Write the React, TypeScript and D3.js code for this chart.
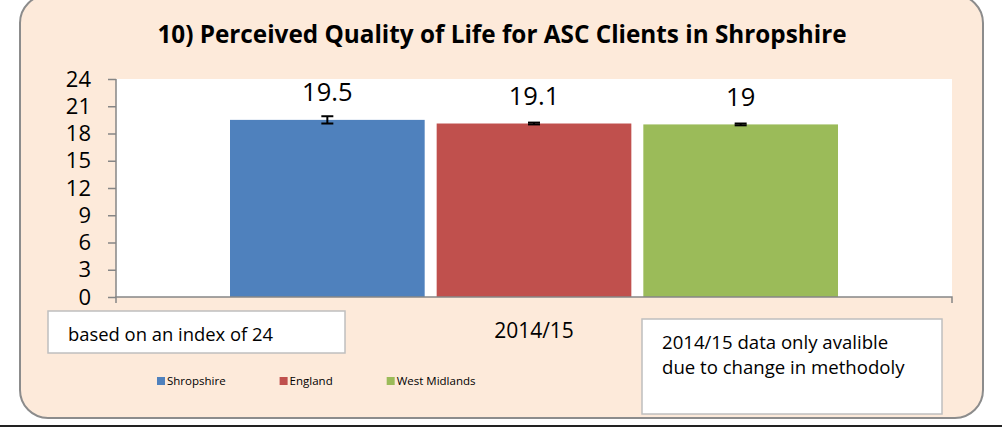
import React, { useEffect, useRef } from "react";
import * as d3 from "d3";

const categories = ["2014/15"];
const seriesNames = ["Shropshire", "England", "West Midlands"];
const seriesValues = [19.5, 19.1, 19];
const seriesErrors = [0.4, 0.1, 0.1];
const yTicks = [0, 3, 6, 9, 12, 15, 18, 21, 24];
const colors = ["#4F81BD", "#C0504D", "#9BBB59"];
const title = "10) Perceived Quality of Life for ASC Clients in Shropshire";
const noteLeft = "based on an index of 24";
const noteRight = ["2014/15 data only avalible", "due to change in methodoly"];

const App = () => {
  const svgRef = useRef<SVGSVGElement>(null);

  useEffect(() => {
    document.body.style.margin = "0";
    const width = 1002;
    const height = 428;
    const plotLeft = 116;
    const plotRight = 952;
    const plotTop = 79;
    const plotBottom = 297;
    const font = "'Open Sans', sans-serif";
    const axisColor = "#868686";

    const svg = d3.select(svgRef.current).attr("width", width).attr("height", height);
    svg.selectAll("*").remove();

    // frame
    svg
      .append("rect")
      .attr("x", 20)
      .attr("y", -5)
      .attr("width", 963)
      .attr("height", 423)
      .attr("rx", 28)
      .attr("fill", "#FDEADA")
      .attr("stroke", "#8C8C8C")
      .attr("stroke-width", 2);

    svg
      .append("line")
      .attr("x1", 0)
      .attr("x2", width)
      .attr("y1", 426)
      .attr("y2", 426)
      .attr("stroke", "#222")
      .attr("stroke-width", 2);

    // title
    svg
      .append("text")
      .attr("x", 502)
      .attr("y", 43)
      .attr("text-anchor", "middle")
      .attr("font-family", font)
      .attr("font-weight", "bold")
      .attr("font-size", 24.3)
      .attr("fill", "#000")
      .text(title);

    // plot area
    svg
      .append("rect")
      .attr("x", plotLeft)
      .attr("y", plotTop)
      .attr("width", plotRight - plotLeft)
      .attr("height", plotBottom - plotTop)
      .attr("fill", "#fff");

    const x0 = d3
      .scaleBand()
      .domain(categories)
      .range([plotLeft, plotRight])
      .paddingInner(0)
      .paddingOuter(0.1875);

    const x1 = d3
      .scaleBand()
      .domain(seriesNames)
      .range([0, x0.bandwidth()])
      .paddingInner(0.058)
      .paddingOuter(0);

    const y = d3.scaleLinear().domain([0, 24]).range([plotBottom, plotTop]);

    const rows = seriesNames.map((name, i) => ({
      name,
      value: seriesValues[i],
      err: seriesErrors[i],
      color: colors[i],
    }));

    const cat = categories[0];

    // bars
    svg
      .append("g")
      .selectAll("rect")
      .data(rows)
      .join("rect")
      .attr("x", (d) => x0(cat)! + x1(d.name)!)
      .attr("y", (d) => y(d.value))
      .attr("width", x1.bandwidth())
      .attr("height", (d) => y(0) - y(d.value))
      .attr("fill", (d) => d.color);

    // error bars
    const eg = svg.append("g").attr("stroke", "#000").attr("stroke-width", 2);
    rows.forEach((d) => {
      const cx = x0(cat)! + x1(d.name)! + x1.bandwidth() / 2;
      eg.append("line")
        .attr("x1", cx)
        .attr("x2", cx)
        .attr("y1", y(d.value + d.err))
        .attr("y2", y(d.value - d.err));
      [d.value + d.err, d.value - d.err].forEach((v) => {
        eg.append("line")
          .attr("x1", cx - 6)
          .attr("x2", cx + 6)
          .attr("y1", y(v))
          .attr("y2", y(v));
      });
    });

    // value labels
    svg
      .append("g")
      .selectAll("text")
      .data(rows)
      .join("text")
      .attr("x", (d) => x0(cat)! + x1(d.name)! + x1.bandwidth() / 2)
      .attr("y", (d) => y(d.value) - 18.5)
      .attr("text-anchor", "middle")
      .attr("font-family", font)
      .attr("font-size", 25.5)
      .attr("fill", "#000")
      .text((d) => String(d.value));

    // y axis
    const yAxis = svg
      .append("g")
      .attr("transform", `translate(${plotLeft},0)`)
      .call(d3.axisLeft(y).tickValues(yTicks).tickSize(8).tickPadding(17));
    yAxis.select(".domain").attr("stroke", axisColor).attr("stroke-width", 1.5).attr("d", `M0,${plotTop}V${plotBottom}`);
    yAxis.selectAll(".tick line").attr("stroke", axisColor).attr("stroke-width", 1.5);
    yAxis
      .selectAll(".tick text")
      .attr("font-family", font)
      .attr("font-size", 22)
      .attr("fill", "#000");

    // x axis
    const xAxis = svg
      .append("g")
      .attr("transform", `translate(0,${plotBottom})`)
      .call(d3.axisBottom(x0).tickSize(0).tickPadding(0));
    xAxis.select(".domain").remove();
    xAxis.selectAll(".tick line").remove();
    xAxis
      .selectAll(".tick text")
      .attr("font-family", font)
      .attr("font-size", 21)
      .attr("fill", "#000")
      .attr("dy", 0)
      .attr("y", 41);
    svg
      .append("path")
      .attr("d", `M${plotLeft},${plotBottom + 6}V${plotBottom}H${plotRight}V${plotBottom + 6}`)
      .attr("fill", "none")
      .attr("stroke", axisColor)
      .attr("stroke-width", 1.5);

    // note boxes
    svg
      .append("rect")
      .attr("x", 48)
      .attr("y", 311)
      .attr("width", 297)
      .attr("height", 42)
      .attr("fill", "#fff")
      .attr("stroke", "#BFBFBF")
      .attr("stroke-width", 1.5);
    svg
      .append("text")
      .attr("x", 68)
      .attr("y", 341)
      .attr("font-family", font)
      .attr("font-size", 18.4)
      .attr("fill", "#000")
      .text(noteLeft);

    svg
      .append("rect")
      .attr("x", 642)
      .attr("y", 319)
      .attr("width", 300)
      .attr("height", 95)
      .attr("fill", "#fff")
      .attr("stroke", "#BFBFBF")
      .attr("stroke-width", 1.5);
    svg
      .append("g")
      .selectAll("text")
      .data(noteRight)
      .join("text")
      .attr("x", 662)
      .attr("y", (_, i) => 349 + i * 25)
      .attr("font-family", font)
      .attr("font-size", 18.6)
      .attr("fill", "#000")
      .text((d) => d);

    // legend
    const legend = svg.append("g");
    let lx = 157;
    rows.forEach((d) => {
      legend
        .append("rect")
        .attr("x", lx)
        .attr("y", 377)
        .attr("width", 8)
        .attr("height", 8)
        .attr("fill", d.color);
      const t = legend
        .append("text")
        .attr("x", lx + 10)
        .attr("y", 385)
        .attr("font-family", font)
        .attr("font-size", 11.5)
        .attr("fill", "#000")
        .text(d.name);
      const w = (t.node() as SVGTextElement).getComputedTextLength();
      lx += 10 + w + 54;
    });
  }, []);

  return (
    <div>
      <svg ref={svgRef} style={{ display: "block" }}></svg>
    </div>
  );
};

export default App;
